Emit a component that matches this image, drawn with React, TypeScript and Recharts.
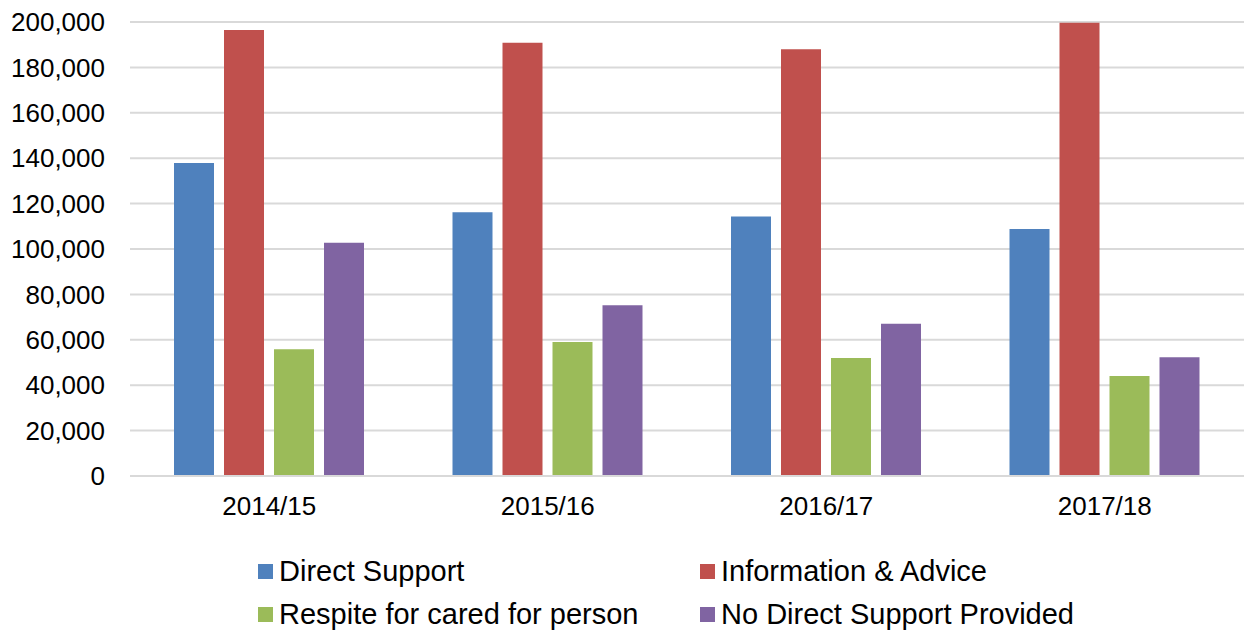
import { BarChart, Bar, XAxis, YAxis, CartesianGrid, Legend } from "recharts";

const years = ["2014/15", "2015/16", "2016/17", "2017/18"];
const directSupport = [137900, 116200, 114300, 108800];
const infoAdvice = [196500, 190900, 188000, 199700];
const respite = [55800, 59000, 52000, 44000];
const noDirectSupport = [102800, 75200, 67100, 52300];
const yTicks = [0, 20000, 40000, 60000, 80000, 100000, 120000, 140000, 160000, 180000, 200000];

const series = [
  { key: "ds", name: "Direct Support", color: "#4f81bd" },
  { key: "ia", name: "Information & Advice", color: "#c0504d" },
  { key: "rs", name: "Respite for cared for person", color: "#9bbb59" },
  { key: "nd", name: "No Direct Support Provided", color: "#8064a2" },
];

const data = years.map((y, i) => ({
  year: y,
  ds: directSupport[i],
  ia: infoAdvice[i],
  rs: respite[i],
  nd: noDirectSupport[i],
}));

const FONT = "'Liberation Sans', Arial, sans-serif";

const LegendBox = () => (
  <div
    style={{
      display: "grid",
      gridTemplateColumns: "442px 420px",
      gridAutoRows: "43px",
      paddingTop: 4,
      paddingLeft: 258,
      fontFamily: FONT,
      fontSize: 29,
      color: "#000",
      whiteSpace: "nowrap",
    }}
  >
    {series.map((s) => (
      <div key={s.key} style={{ display: "flex", alignItems: "center" }}>
        <span style={{ width: 15, height: 15, background: s.color, marginRight: 6, display: "inline-block" }} />
        <span>{s.name}</span>
      </div>
    ))}
  </div>
);

export default function App() {
  return (
    <div style={{ position: "absolute", left: 0, top: 0, width: 1244, height: 632, background: "#fff" }}>
      <BarChart
        width={1244}
        height={632}
        data={data}
        margin={{ top: 22, right: 0, left: 0, bottom: 0 }}
        barGap={10}
        barSize={40}
      >
        <CartesianGrid vertical={false} stroke="#d9d9d9" strokeWidth={2} />
        <XAxis
          dataKey="year"
          axisLine={{ stroke: "#d9d9d9", strokeWidth: 2 }}
          tickLine={false}
          tickSize={0}
          tickMargin={21}
          height={70}
          tick={{ fontSize: 26, fill: "#000", fontFamily: FONT }}
        />
        <YAxis
          domain={[0, 200000]}
          ticks={yTicks}
          interval={0}
          width={130}
          axisLine={false}
          tickLine={false}
          tickSize={0}
          tickMargin={25}
          tickFormatter={(v: number) => v.toLocaleString("en-US")}
          tick={{ fontSize: 26, fill: "#000", fontFamily: FONT }}
        />
        <Legend
          verticalAlign="bottom"
          content={<LegendBox />}
          wrapperStyle={{ left: 0, bottom: 0, width: 1244, height: 86 }}
        />
        {series.map((s) => (
          <Bar key={s.key} dataKey={s.key} name={s.name} fill={s.color} isAnimationActive={false} />
        ))}
      </BarChart>
    </div>
  );
}
